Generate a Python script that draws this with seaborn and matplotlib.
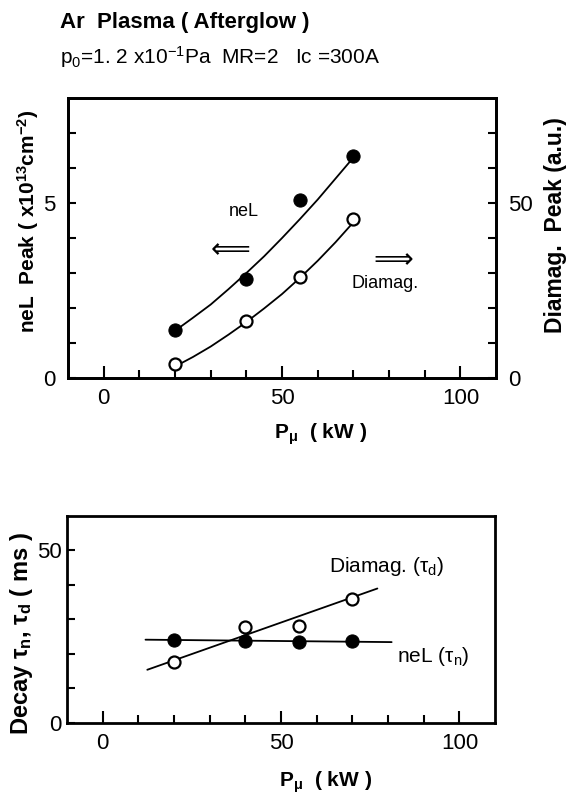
import matplotlib
matplotlib.use('Agg')
import matplotlib.pyplot as plt
import seaborn as sns

# microwave power (kW)
pw = [20, 40, 55, 70]
# top panel: peak values
nel_peak = [1.37, 2.83, 5.1, 6.35]        # x10^13 cm^-2
diamag_peak = [4.0, 16.3, 28.8, 45.3]     # a.u.
# hand-drawn fit curves
fit_x = [20, 25, 30, 35, 40, 45, 50, 55, 60, 65, 70]
nel_fit = [1.35, 1.72, 2.1, 2.54, 3.0, 3.48, 4.0, 4.54, 5.1, 5.7, 6.3]
diamag_fit = [3.3, 6.0, 9.0, 12.4, 16.0, 19.9, 24.0, 28.6, 33.5, 38.8, 44.5]

# bottom panel: decay times (ms)
tau_n = [24.0, 23.7, 23.5, 23.6]
tau_d = [17.6, 27.8, 28.0, 36.0]
tau_n_line_x = [12, 81]
tau_n_line = [24.1, 23.4]
tau_d_line_x = [12.5, 77]
tau_d_line = [15.4, 38.9]

sns.set_style('ticks')
plt.rcParams['font.family'] = ['Liberation Sans', 'DejaVu Sans']
plt.rcParams['mathtext.default'] = 'regular'
for k in ('text.color', 'axes.labelcolor', 'xtick.color', 'ytick.color'):
    plt.rcParams[k] = 'black'

fig = plt.figure(figsize=(5.73, 7.94), dpi=100)
ax1 = fig.add_axes([0.1187, 0.5239, 0.747, 0.3526])
ax2 = ax1.twinx()
ax3 = fig.add_axes([0.117, 0.0894, 0.747, 0.2613])

# --- top panel
sns.lineplot(x=fit_x, y=nel_fit, ax=ax1, color='black', lw=1.3)
sns.scatterplot(x=pw, y=nel_peak, ax=ax1, color='black', s=90, edgecolor='black', zorder=5)
sns.lineplot(x=fit_x, y=diamag_fit, ax=ax2, color='black', lw=1.3)
sns.scatterplot(x=pw, y=diamag_peak, ax=ax2, facecolor='white', edgecolor='black',
                s=75, linewidth=1.6, zorder=5)

ax1.set_xlim(-10, 110)
ax1.set_ylim(0, 8)
ax2.set_ylim(0, 80)
ax1.set_yticks([0, 5])
ax1.set_yticks([1, 2, 3, 4, 6, 7], minor=True)
ax2.set_yticks([0, 50])
ax2.set_yticks([10, 20, 30, 40, 60, 70], minor=True)

ax1.set_ylabel('neL  Peak ( x10$^{13}$cm$^{-2}$)', fontsize=15, fontweight='bold')
ax1.yaxis.set_label_coords(-0.063, 0.56)
ax2.set_ylabel('Diamag.  Peak (a.u.)', fontsize=16.5, fontweight='bold', rotation=90)
ax2.yaxis.set_label_coords(1.112, 0.546)
ax1.set_xlabel('P$_μ$  ( kW )', fontsize=15, fontweight='bold')
ax1.xaxis.set_label_coords(0.59, -0.155)

ax1.text(35, 4.75, 'neL', fontsize=13, ha='left', va='center')
ax1.text(30, 3.66, '⟸', fontsize=20, ha='left', va='center', family='DejaVu Sans')
ax1.text(75.5, 3.37, '⟹', fontsize=20, ha='left', va='center', family='DejaVu Sans')
ax1.text(69.5, 2.71, 'Diamag.', fontsize=13, ha='left', va='center')

# --- bottom panel
sns.lineplot(x=tau_n_line_x, y=tau_n_line, ax=ax3, color='black', lw=1.3)
sns.lineplot(x=tau_d_line_x, y=tau_d_line, ax=ax3, color='black', lw=1.3)
sns.scatterplot(x=pw, y=tau_n, ax=ax3, color='black', s=90, edgecolor='black', zorder=5)
sns.scatterplot(x=pw, y=tau_d, ax=ax3, facecolor='white', edgecolor='black',
                s=75, linewidth=1.6, zorder=5)
ax3.set_xlim(-10, 110)
ax3.set_ylim(0, 60)
ax3.set_yticks([0, 50])
ax3.set_yticks([10, 20, 30, 40], minor=True)
ax3.set_ylabel('Decay τ$_n$, τ$_d$ ( ms )', fontsize=17, fontweight='bold')
ax3.yaxis.set_label_coords(-0.075, 0.43)
ax3.set_xlabel('P$_μ$  ( kW )', fontsize=15, fontweight='bold')
ax3.xaxis.set_label_coords(0.605, -0.225)
ax3.text(63.5, 45.4, 'Diamag. (τ$_d$)', fontsize=15, ha='left', va='center')
ax3.text(82.5, 19.3, 'neL (τ$_n$)', fontsize=15, ha='left', va='center')

for ax in (ax1, ax3):
    ax.set_xticks([0, 50, 100])
    ax.set_xticks([10, 20, 30, 40, 60, 70, 80, 90], minor=True)
    ax.tick_params(axis='x', which='major', direction='in', length=8.5, width=1.5,
                   labelsize=16, pad=7)
    ax.tick_params(axis='x', which='minor', direction='in', length=5.5, width=1.5)
    ax.tick_params(axis='y', which='both', direction='in', length=5.5, width=1.5,
                   labelsize=16, pad=4)
ax1.tick_params(axis='y', pad=9)
ax2.tick_params(axis='y', which='both', direction='in', length=5.5, width=1.5,
                labelsize=16, pad=9)

for ax in (ax1, ax2, ax3):
    for sp in ax.spines.values():
        sp.set_visible(True)
        sp.set_linewidth(2)
        sp.set_color('black')

fig.text(0.105, 0.972, 'Ar  Plasma ( Afterglow )', fontsize=16, fontweight='bold',
         ha='left', va='center')
fig.text(0.105, 0.928, 'p$_0$=1. 2 x10$^{-1}$Pa  MR=2   Ic =300A', fontsize=15,
         ha='left', va='center')

fig.savefig('out.png', dpi=100)
